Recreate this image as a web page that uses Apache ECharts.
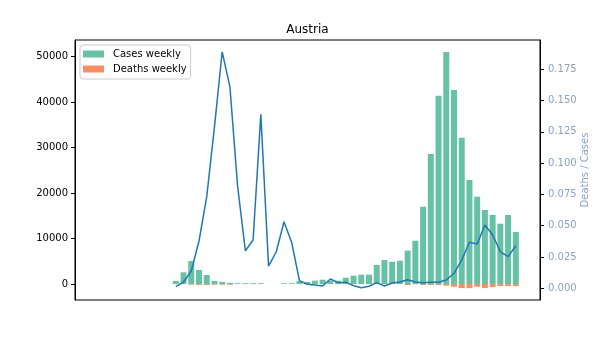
<!DOCTYPE html>
<html>
<head>
<meta charset="utf-8">
<script src="https://cdn.jsdelivr.net/npm/echarts@6/dist/echarts.min.js"></script>
<style>html,body{margin:0;padding:0;background:#fff}#c{width:600px;height:337px}</style>
</head>
<body>
<div id="c"></div>
<script>
// week index (x positions of weekly data)
const weeks = [0,1,2,3,4,5,6,7,8,9,10,11,12,13,14,15,16,17,18,19,20,21,22,23,24,25,26,27,28,29,30,31,32,33,34,35,36,37,38,39,40,41,42,43,44];
const casesWeekly = [660,2570,5060,3080,1980,660,440,250,180,170,170,170,0,0,170,170,660,440,730,950,730,730,1390,1830,2050,2050,4180,5280,4900,5130,7330,9520,17000,28600,41420,51030,42680,32180,22880,19200,16280,15180,13260,15180,11440];
const deathsWeekly = [0,0,150,200,200,150,150,150,10,10,10,10,0,0,10,10,10,10,10,10,10,10,10,10,10,10,20,20,30,40,220,60,220,220,220,370,600,880,900,600,870,650,450,450,450];
const deathsPerCases = [0.0013,0.0050,0.0138,0.0378,0.0732,0.129,0.189,0.161,0.0812,0.030,0.0386,0.139,0.0178,0.0292,0.0532,0.0364,0.0061,0.0032,0.0026,0.0018,0.0074,0.0045,0.0048,0.0021,0.0005,0.0016,0.0045,0.0018,0.0042,0.0050,0.0069,0.0050,0.0045,0.0048,0.0048,0.0066,0.0120,0.0226,0.0368,0.0354,0.0506,0.0426,0.0292,0.0253,0.0340];
const leftTicks = [0,10000,20000,30000,40000,50000];
const rightTicks = [0,0.025,0.05,0.075,0.1,0.125,0.15,0.175];

const FONT = '"DejaVu Sans", sans-serif';
const chart = echarts.init(document.getElementById('c'), null, {renderer:'canvas'});
chart.setOption({
  animation: false,
  textStyle: {fontFamily: FONT},
  graphic: [{
    type: 'text', x: 307.5, y: 30,
    style: {text: 'Austria', font: '12px ' + FONT, fill: '#000', align: 'center', verticalAlign: 'middle'}
  }],
  legend: {
    data: ['Cases weekly', 'Deaths weekly'],
    orient: 'vertical', left: 80, top: 45,
    padding: [4, 4, 5, 3],
    borderColor: '#cccccc', borderWidth: 1, borderRadius: 3,
    backgroundColor: 'rgba(255,255,255,0.8)',
    itemWidth: 21, itemHeight: 7, itemGap: 5, icon: 'rect',
    textStyle: {fontSize: 10, color: '#000', fontFamily: FONT, lineHeight: 10, padding: [0,0,0,4]}
  },
  grid: {left: 75, right: 60, top: 40, bottom: 37, show: true, borderColor: '#000', borderWidth: 1,
    backgroundColor: 'transparent', containLabel: false, outerBoundsMode: 'none'},
  xAxis: {
    type: 'value', min: -13.05, max: 47.13,
    axisLine: {show: false}, axisTick: {show: false}, axisLabel: {show: false}, splitLine: {show: false}
  },
  yAxis: [{
    type: 'value', min: -3520, max: 53674, position: 'left',
    axisLine: {show: true, onZero: false, lineStyle: {color: '#000'}},
    axisTick: {show: true, length: 4, lineStyle: {color: '#000'}, customValues: leftTicks},
    axisLabel: {show: true, fontSize: 10, color: '#000', margin: 7, fontFamily: FONT, customValues: leftTicks,
      formatter: v => String(Math.round(v))},
    splitLine: {show: false}
  }, {
    type: 'value', min: -0.00935, max: 0.19842, position: 'right',
    name: 'Deaths / Cases', nameLocation: 'middle', nameGap: 40, nameRotate: 90, nameMoveOverlap: false,
    nameTextStyle: {color: '#8da0cb', fontSize: 10, fontFamily: FONT},
    axisLine: {show: true, onZero: false, lineStyle: {color: '#000'}},
    axisTick: {show: true, length: 4, lineStyle: {color: '#000'}, customValues: rightTicks},
    axisLabel: {show: true, fontSize: 10, color: '#8da0cb', margin: 8, fontFamily: FONT, customValues: rightTicks,
      formatter: v => Number(v).toFixed(3)},
    splitLine: {show: false}
  }],
  series: [{
    name: 'Cases weekly', type: 'bar', xAxisIndex: 0, yAxisIndex: 0,
    barWidth: 6, barGap: '-100%',
    itemStyle: {color: '#66c2a5'},
    data: weeks.map((w, i) => [w, casesWeekly[i]])
  }, {
    name: 'Deaths weekly', type: 'bar', xAxisIndex: 0, yAxisIndex: 0,
    barWidth: 6, barGap: '-100%',
    itemStyle: {color: '#fc8d62'},
    data: weeks.map((w, i) => [w, -deathsWeekly[i]])
  }, {
    name: 'Deaths / Cases', type: 'line', xAxisIndex: 0, yAxisIndex: 1,
    symbol: 'none', z: 5,
    lineStyle: {color: '#1f77b4', width: 1.5}, itemStyle: {color: '#1f77b4'},
    data: weeks.map((w, i) => [w, deathsPerCases[i]])
  }]
});
</script>
</body>
</html>
